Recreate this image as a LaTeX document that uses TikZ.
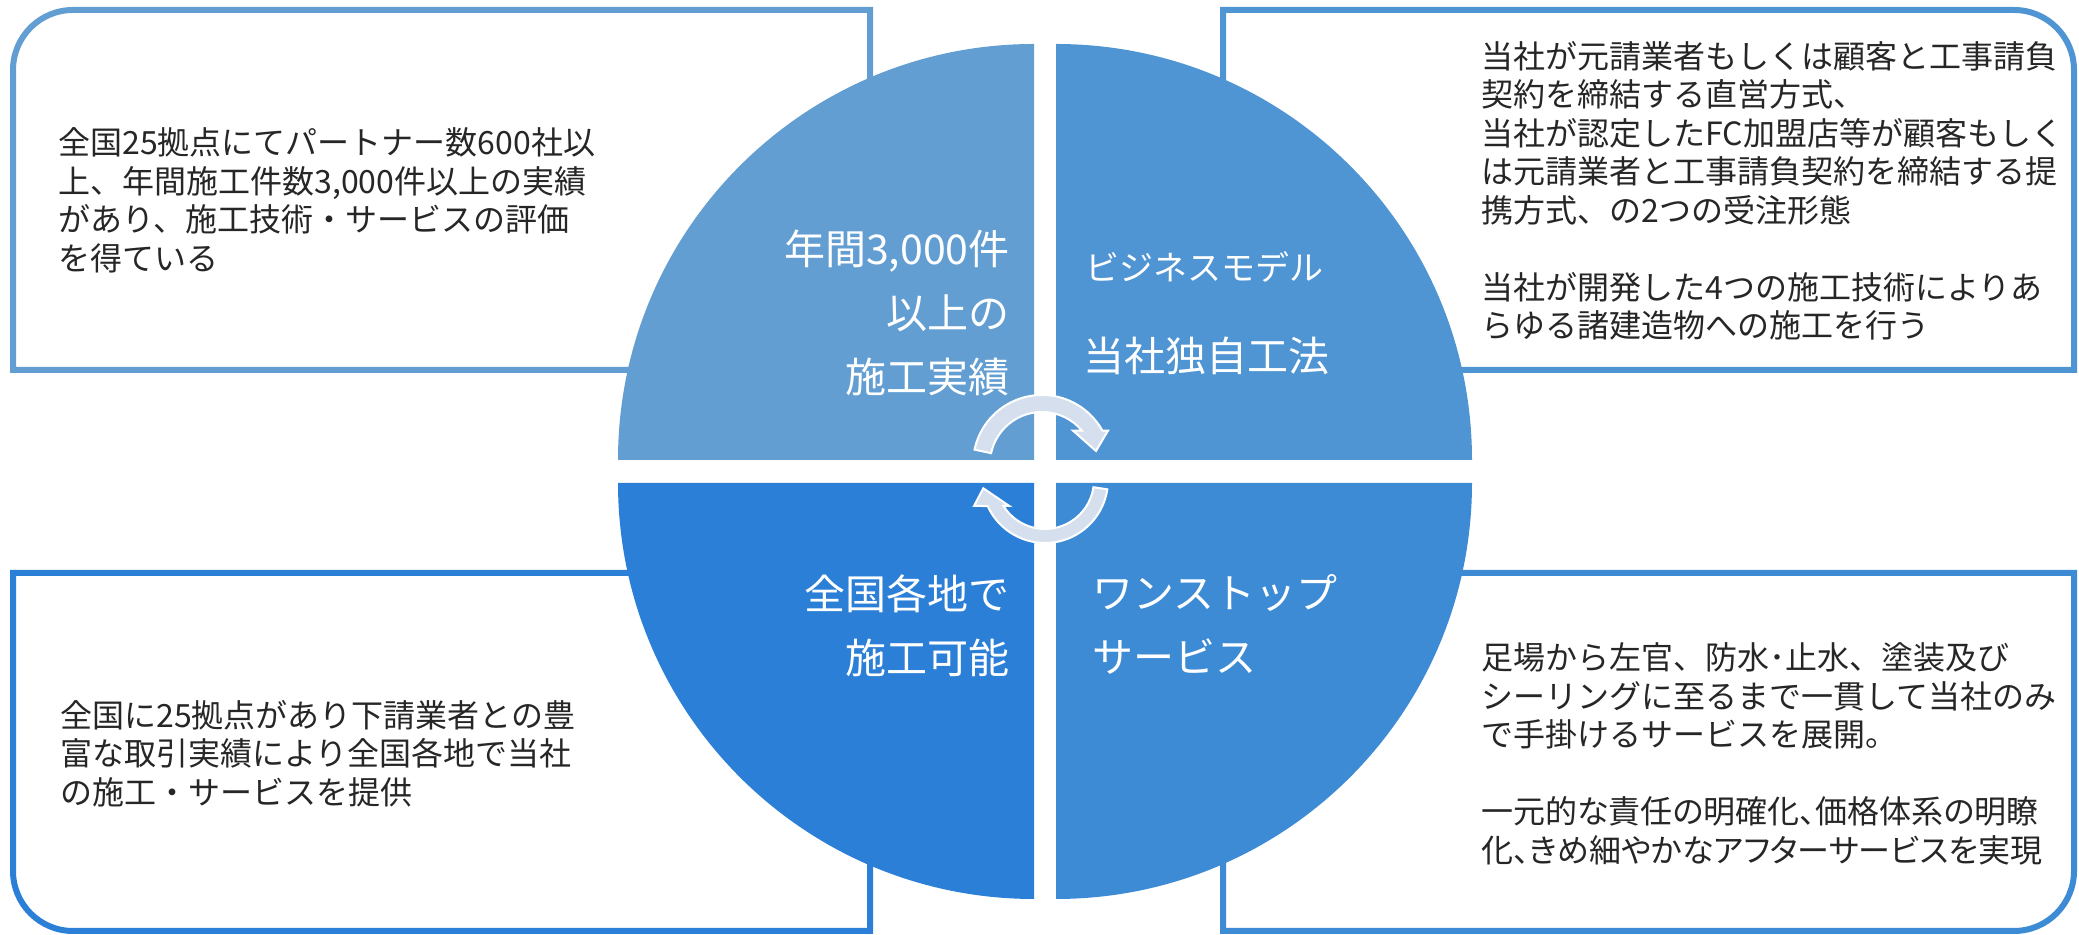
\documentclass[tikz,border=0pt]{standalone}
\usepackage{fontspec}
\setmainfont{Noto Sans CJK JP}
\newfontfamily\propjp[RawFeature=+palt]{Noto Sans CJK JP}
\usetikzlibrary{calc}
\definecolor{qone}{RGB}{99,158,210}
\definecolor{qtwo}{RGB}{79,148,211}
\definecolor{qthree}{RGB}{61,138,213}
\definecolor{qfour}{RGB}{43,127,215}
\definecolor{arrowfill}{RGB}{213,223,238}
\tikzset{
  infobox/.style={line width=3pt, line join=miter},
  quad/.style={draw=none},
  bodytext/.style={align=left, inner sep=0pt, text=black!85, font=\fontsize{16}{19.25}\selectfont},
  quadlabel/.style={inner sep=0pt, text=white, font=\fontsize{20.5}{32}\selectfont},
  quadsmall/.style={inner sep=0pt, text=white, font=\fontsize{17}{20}\selectfont},
  cyclearrow/.style={fill=arrowfill, draw=white, line width=1pt, line join=miter}
}
\begin{document}
\begin{tikzpicture}[x=0.5pt, y=0.5pt]
  \useasboundingbox (0,0) rectangle (2079,935);
  \draw[infobox, draw=qone] (870,565) -- (13,565) -- (13,865) arc[start angle=180, end angle=90, radius=60] -- (870,925) -- cycle;
  \draw[infobox, draw=qtwo] (1223,565) -- (2074,565) -- (2074,865) arc[start angle=0, end angle=90, radius=60] -- (1223,925) -- cycle;
  \draw[infobox, draw=qfour] (870,362) -- (13,362) -- (13,64) arc[start angle=180, end angle=270, radius=60] -- (870,4) -- cycle;
  \draw[infobox, draw=qthree] (1223,362) -- (2074,362) -- (2074,64) arc[start angle=0, end angle=-90, radius=60] -- (1223,4) -- cycle;
  \fill[quad, qone] (1034,475) -- (618,475) arc[start angle=180, end angle=90, radius=416] -- cycle;
  \fill[quad, qtwo] (1056,475) -- (1056,891) arc[start angle=90, end angle=0, radius=416] -- cycle;
  \fill[quad, qthree] (1056,452) -- (1472,452) arc[start angle=0, end angle=-90, radius=416] -- cycle;
  \fill[quad, qfour] (1034,452) -- (1034,36) arc[start angle=270, end angle=180, radius=416] -- cycle;
  \coordinate (topc) at (1042,471);
  \coordinate (botc) at (1045,455);
  \filldraw[cyclearrow] ($(topc)+(168:69)$) arc[start angle=168, end angle=28.9, radius=69] -- (1108,504.3) -- (1096,484) -- (1073,504.3) -- ($(topc)+(39.8:52)$) arc[start angle=39.8, end angle=168, radius=52] -- cycle;
  \filldraw[cyclearrow] ($(botc)+(-8.5:63)$) arc[start angle=-8.5, end angle=-155.6, radius=63] -- (974,429) -- (983.3,446.7) -- (1009.3,429) -- ($(botc)+(-148:49)$) arc[start angle=-148, end angle=-8.5, radius=49] -- cycle;
  \node[quadlabel, align=right, anchor=east] (recordlbl) at (1010,622.5) {年間3,000件\\以上の\\施工実績};
  \node[quadsmall, anchor=west] (modellbl) at (1085,668) {ビジネスモデル};
  \node[quadlabel, anchor=west] (methodlbl) at (1083,579) {当社独自工法};
  \node[quadlabel, align=left, anchor=west] (stoplbl) at (1092,310.5) {ワンストップ\\サービス};
  \node[quadlabel, align=right, anchor=east] (arealbl) at (1010,309) {全国各地で\\施工可能};
  \node[bodytext, anchor=west] (recordtxt) at (58,734.5) {全国25拠点にてパートナー数600社以\\上、年間施工件数3,000件以上の実績\\があり、施工技術・サービスの評価\\を得ている};
  \node[bodytext, anchor=west] (methodtxt) at (1481,744) {当社が元請業者もしくは顧客と工事請負\\契約を締結する直営方式、\\当社が認定したFC加盟店等が顧客もしく\\は元請業者と工事請負契約を締結する提\\携方式、の2つの受注形態\\[19.25pt]当社が開発した4つの施工技術によりあ\\らゆる諸建造物への施工を行う};
  \node[bodytext, anchor=west] (areatxt) at (60,181.5) {全国に25拠点があり下請業者との豊\\富な取引実績により全国各地で当社\\の施工・サービスを提供};
  \node[bodytext, anchor=west] (stoptxt) at (1481,181) {足場から左官、防水･止水、塗装及び\\シーリングに至るまで一貫して当社のみ\\で手掛けるサービスを展開。\\[19.25pt]{\propjp 一元的な責任の明確化、価格体系の明瞭}\\{\propjp 化、きめ細やかなアフターサービスを実現}};
\end{tikzpicture}
\end{document}
